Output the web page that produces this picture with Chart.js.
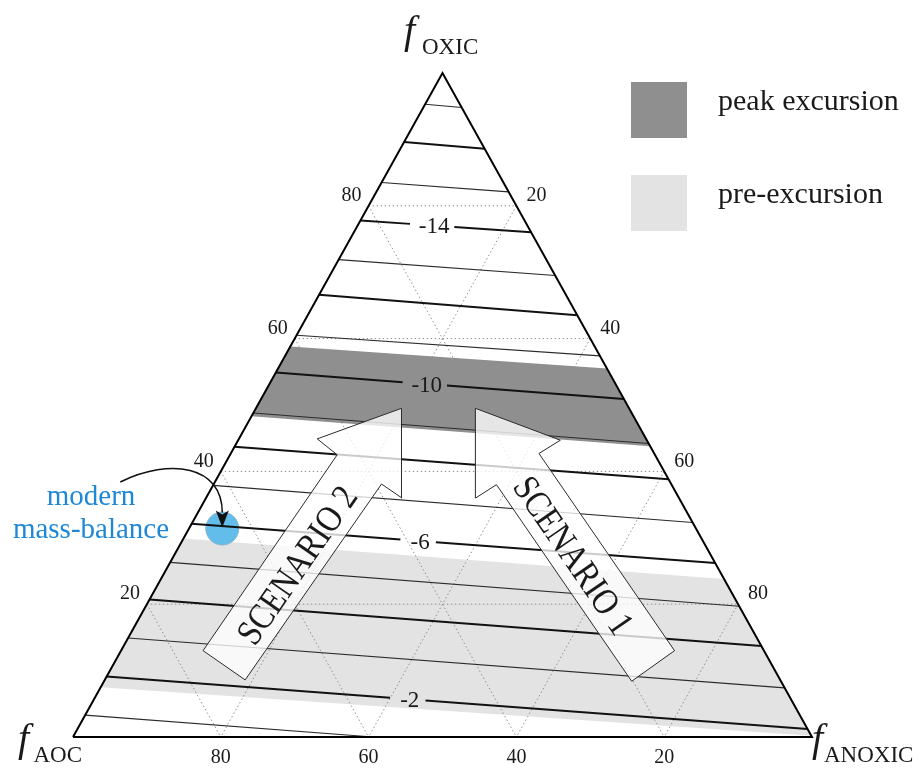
<!DOCTYPE html>
<html>
<head>
<meta charset="utf-8">
<script src="https://cdn.jsdelivr.net/npm/chart.js@4.4.1/dist/chart.umd.min.js"></script>
<style>
  html, body { margin: 0; padding: 0; background: #ffffff; }
  #wrap { width: 920px; height: 768px; position: relative; }
</style>
</head>
<body>
<div id="wrap"><canvas id="c" width="920" height="768"></canvas></div>
<script>
// ---- data (all compositions in percent: OXIC, ANOXIC; AOC is the remainder) ----

// mixing-model contour values, one line per unit
const contourValues = [-17, -16, -15, -14, -13, -12, -11, -10, -9, -8, -7, -6, -5, -4, -3, -2, -1];
// OXIC share where each contour meets the AOC–OXIC edge (ANOXIC = 0 there)
const contourLeftOxic = [95.3, 89.6, 83.5, 77.8, 71.9, 66.6, 60.5, 54.9, 48.8, 43.7, 37.9, 32.1, 26.3, 20.7, 14.9, 9.1, 3.3];
// composition at the other end of each contour
const contourRightOxic = [94.8, 88.6, 82.1, 76.0, 69.5, 63.5, 57.4, 50.9, 44.2, 38.8, 32.3, 26.2, 19.7, 13.7, 7.4, 1.2, 0];
const contourRightAnoxic = [5.2, 11.4, 17.9, 24.0, 30.5, 36.5, 42.6, 49.1, 55.8, 61.2, 67.7, 73.8, 80.3, 86.3, 92.6, 98.8, 40.6];
// contours that carry a value label
const labeledContours = [-14, -10, -6, -2];

// ternary grid / tick values
const gridTicks = [20, 40, 60, 80];

// peak-excursion field: OXIC share of its upper and lower limits on the left / right edges
const peakTopOxic = [58.8, 55.5];
const peakBottomOxic = [48.3, 43.8];
// pre-excursion field
const preTopOxic = [29.9, 23.8];
const preBottomOxic = [7.5, 0.2];

// scenario arrows (vertex compositions)
const scenario2Oxic = [49.5, 44.9, 42.5, 13.0, 8.6, 38.1, 36.0];
const scenario2Anoxic = [19.7, 10.6, 14.5, 11.1, 19.0, 22.7, 26.5];
const scenario1Oxic = [49.5, 44.7, 42.7, 13.0, 8.4, 38.0, 36.0];
const scenario1Anoxic = [29.7, 43.6, 41.7, 74.9, 71.4, 38.3, 36.5];

// modern mass balance
const modernOxic = [31.4];
const modernAnoxic = [4.5];

// ---- ternary -> cartesian (x across the base, y = height) ----
const toXY = (oxic, anoxic) => ({ x: anoxic + oxic / 2, y: oxic });
const edgeL = o => toXY(o, 0);          // AOC–OXIC edge
const edgeR = o => toXY(o, 100 - o);    // OXIC–ANOXIC edge

const SERIF = '"Liberation Serif", "Times New Roman", serif';
const INK = '#1a1a1a';
const PEAK_COLOR = '#8f8f8f';
const PRE_COLOR = '#e3e3e3';

// label placement along the base (percent of base width) and gap half-widths
const contourLabelAt = { '-14': 48.6, '-10': 47.6, '-6': 46.7, '-2': 45.3 };
const gapHalf = v => (String(v).length > 2 ? 3.0 : 2.4);

const datasets = [];

// triangle outline
datasets.push({
  label: 'frame',
  data: [toXY(0, 0), toXY(0, 100), toXY(100, 0), toXY(0, 0)],
  showLine: true, borderColor: '#000', borderWidth: 2, borderJoinStyle: 'miter',
  pointRadius: 0, fill: false, order: 0, clip: false
});

// scenario arrows
function arrowData(os, ns) { const p = os.map((o, i) => toXY(o, ns[i])); p.push(p[0]); return p; }
datasets.push({
  label: 'SCENARIO 2', data: arrowData(scenario2Oxic, scenario2Anoxic),
  showLine: true, borderColor: '#2a2a2a', borderWidth: 1, borderJoinStyle: 'miter',
  backgroundColor: 'rgba(255,255,255,0.78)', fill: 'shape', pointRadius: 0, order: 1
});
datasets.push({
  label: 'SCENARIO 1', data: arrowData(scenario1Oxic, scenario1Anoxic),
  showLine: true, borderColor: '#2a2a2a', borderWidth: 1, borderJoinStyle: 'miter',
  backgroundColor: 'rgba(255,255,255,0.78)', fill: 'shape', pointRadius: 0, order: 1
});

// contour lines
contourValues.forEach((v, i) => {
  const a = edgeL(contourLeftOxic[i]);
  const b = toXY(contourRightOxic[i], contourRightAnoxic[i]);
  const thick = v % 2 === 0;
  const style = {
    showLine: true, borderColor: thick ? '#111' : '#2b2b2b', borderWidth: thick ? 2 : 1.1,
    pointRadius: 0, fill: false, order: 2, clip: false
  };
  if (labeledContours.includes(v)) {
    const c = contourLabelAt[String(v)], g = gapHalf(v);
    const yAt = x => a.y + (x - a.x) * (b.y - a.y) / (b.x - a.x);
    datasets.push(Object.assign({ label: 'c' + v, data: [a, { x: c - g, y: yAt(c - g) }] }, style));
    datasets.push(Object.assign({ label: 'c' + v + 'b', data: [{ x: c + g, y: yAt(c + g) }, b] }, style));
  } else {
    datasets.push(Object.assign({ label: 'c' + v, data: [a, b] }, style));
  }
});

// modern mass-balance estimate
datasets.push({
  label: 'modern mass-balance',
  data: modernOxic.map((o, i) => toXY(o, modernAnoxic[i])),
  pointRadius: 16.5, pointBackgroundColor: '#63bdeb', pointBorderColor: '#8fb3c8',
  pointBorderWidth: 1, showLine: false, order: 3
});

// dotted ternary grid
gridTicks.forEach(t => {
  const dotted = {
    showLine: true, borderColor: '#8a8a8a', borderWidth: 1, borderDash: [1.4, 2.6],
    pointRadius: 0, fill: false, order: 4
  };
  datasets.push(Object.assign({ label: 'gO' + t, data: [toXY(t, 0), toXY(t, 100 - t)] }, dotted));
  datasets.push(Object.assign({ label: 'gA' + t, data: [toXY(100 - t, 0), toXY(0, 100 - t)] }, dotted));
  datasets.push(Object.assign({ label: 'gN' + t, data: [toXY(100 - t, t), toXY(0, t)] }, dotted));
});

// excursion fields
function bandData(top, bottom) {
  return [edgeL(top[0]), edgeR(top[1]), edgeR(bottom[1]), edgeL(bottom[0]), edgeL(top[0])];
}
datasets.push({
  label: 'peak excursion', data: bandData(peakTopOxic, peakBottomOxic),
  showLine: true, borderWidth: 0, borderColor: 'rgba(0,0,0,0)', backgroundColor: PEAK_COLOR,
  fill: 'shape', pointRadius: 0, order: 5
});
datasets.push({
  label: 'pre-excursion', data: bandData(preTopOxic, preBottomOxic),
  showLine: true, borderWidth: 0, borderColor: 'rgba(0,0,0,0)', backgroundColor: PRE_COLOR,
  fill: 'shape', pointRadius: 0, order: 6
});

// ---- text, ticks, legend and callout ----
const annotations = {
  id: 'ternaryText',
  afterDatasetsDraw(chart) {
    const { ctx, scales } = chart;
    const px = p => [scales.x.getPixelForValue(p.x), scales.y.getPixelForValue(p.y)];
    ctx.save();

    // contour value labels
    ctx.fillStyle = INK;
    ctx.font = '23px ' + SERIF;
    ctx.textAlign = 'center';
    ctx.textBaseline = 'alphabetic';
    labeledContours.forEach(v => {
      const i = contourValues.indexOf(v);
      const a = edgeL(contourLeftOxic[i]);
      const b = toXY(contourRightOxic[i], contourRightAnoxic[i]);
      const c = contourLabelAt[String(v)];
      const y = a.y + (c - a.x) * (b.y - a.y) / (b.x - a.x);
      const [X, Y] = px({ x: c, y });
      ctx.fillText(String(v), X + 2, Y + 8);
    });

    // tick labels on the three edges
    ctx.font = '20px ' + SERIF;
    ctx.textBaseline = 'middle';
    gridTicks.forEach(t => {
      let [X, Y] = px(edgeL(t));            // OXIC on the left edge
      ctx.fillText(String(t), X - 17, Y - 10);
      [X, Y] = px(edgeR(100 - t));          // ANOXIC on the right edge
      ctx.fillText(String(t), X + 20, Y - 10);
      [X, Y] = px(toXY(0, 100 - t));        // AOC on the base
      ctx.fillText(String(t), X, Y + 21);
    });

    // vertex titles
    function title(sub, fx, fy, sx, sy, align) {
      ctx.textBaseline = 'alphabetic';
      ctx.textAlign = 'left';
      ctx.font = 'italic 40px ' + SERIF;
      ctx.fillText('f', fx, fy);
      ctx.font = '23px ' + SERIF;
      ctx.textAlign = align || 'left';
      ctx.fillText(sub, sx, sy);
    }
    title('OXIC', 404, 43, 422, 54);
    title('AOC', 18, 751, 82, 762, 'right');
    title('ANOXIC', 812, 751, 824, 762);

    // scenario labels along the arrow shafts
    function shaftLabel(os, ns, text, downward, along) {
      const top = px(toXY((os[2] + os[5]) / 2, (ns[2] + ns[5]) / 2));
      const base = px(toXY((os[3] + os[4]) / 2, (ns[3] + ns[4]) / 2));
      const cx = base[0] + (top[0] - base[0]) * along;
      const cy = base[1] + (top[1] - base[1]) * along;
      const ang = downward ? Math.atan2(base[1] - top[1], base[0] - top[0])
                           : Math.atan2(top[1] - base[1], top[0] - base[0]);
      ctx.save();
      ctx.translate(cx, cy);
      ctx.rotate(ang);
      ctx.scale(0.86, 1);
      ctx.font = '37px ' + SERIF;
      ctx.textAlign = 'center';
      ctx.textBaseline = 'alphabetic';
      ctx.fillStyle = INK;
      ctx.fillText(text, 0, 15);
      ctx.restore();
    }
    shaftLabel(scenario2Oxic, scenario2Anoxic, 'SCENARIO 2', false, 0.52);
    shaftLabel(scenario1Oxic, scenario1Anoxic, 'SCENARIO 1', true, 0.57);

    // legend
    const legendItems = [['peak excursion', PEAK_COLOR, 82], ['pre-excursion', PRE_COLOR, 175]];
    legendItems.forEach(([name, color, top]) => {
      ctx.fillStyle = color;
      ctx.fillRect(631, top, 56, 56);
      ctx.fillStyle = INK;
      ctx.font = '30px ' + SERIF;
      ctx.textAlign = 'left';
      ctx.textBaseline = 'alphabetic';
      ctx.fillText(name, 718, top + 28);
    });

    // callout for the modern mass-balance point
    const [mx, my] = px(toXY(modernOxic[0], modernAnoxic[0]));
    ctx.strokeStyle = '#111';
    ctx.lineWidth = 1.5;
    ctx.beginPath();
    ctx.moveTo(mx - 102, my - 46.5);
    ctx.bezierCurveTo(mx - 52, my - 71, mx, my - 63, mx, my - 16);
    ctx.stroke();
    ctx.fillStyle = '#111';
    ctx.beginPath();
    ctx.moveTo(mx, my - 1);
    ctx.lineTo(mx - 6.5, my - 18);
    ctx.lineTo(mx, my - 14);
    ctx.lineTo(mx + 6.5, my - 18);
    ctx.closePath();
    ctx.fill();

    ctx.fillStyle = '#1e87d6';
    ctx.font = '29px ' + SERIF;
    ctx.textAlign = 'center';
    ctx.fillText('modern', 91, 505);
    ctx.fillText('mass-balance', 91, 538);

    ctx.restore();
  }
};

new Chart(document.getElementById('c'), {
  type: 'scatter',
  data: { datasets },
  options: {
    responsive: false,
    animation: false,
    events: [],
    layout: { padding: { left: 73, right: 108, top: 73, bottom: 31 } },
    scales: {
      x: { type: 'linear', min: 0, max: 100, display: false },
      y: { type: 'linear', min: 0, max: 100, display: false }
    },
    elements: { point: { radius: 0 }, line: { tension: 0 } },
    plugins: { legend: { display: false }, tooltip: { enabled: false } }
  },
  plugins: [annotations]
});
</script>
</body>
</html>
